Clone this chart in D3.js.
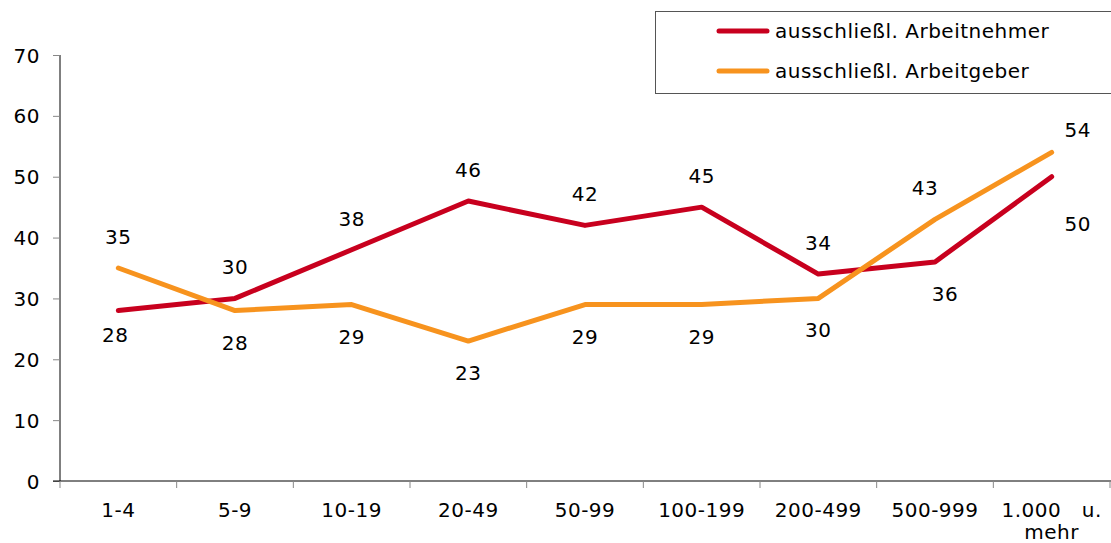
<!DOCTYPE html>
<html>
<head>
<meta charset="utf-8">
<script src="https://cdn.jsdelivr.net/npm/d3@7"></script>
<style>
  body { margin: 0; background: #fff; }
  text { font-family: "DejaVu Sans", Verdana, sans-serif; fill: #000; letter-spacing: 0.5px; }
</style>
</head>
<body>
<div id="chart"></div>
<script>
const categories = ['1-4', '5-9', '10-19', '20-49', '50-99', '100-199', '200-499', '500-999', '1.000 u. mehr'];
const arbeitnehmer = [28, 30, 38, 46, 42, 45, 34, 36, 50];
const arbeitgeber = [35, 28, 29, 23, 29, 29, 30, 43, 54];
const yTicks = [0, 10, 20, 30, 40, 50, 60, 70];
const seriesNames = ['ausschließl. Arbeitnehmer', 'ausschließl. Arbeitgeber'];

const width = 1111;
const height = 543;
const margin = { top: 55, right: 1, bottom: 62, left: 60 };
const fs = 20;

const svg = d3.select('#chart')
  .append('svg')
  .attr('width', width)
  .attr('height', height);

const x = d3.scaleBand()
  .domain(categories)
  .range([margin.left, width - margin.right]);

const y = d3.scaleLinear()
  .domain([0, 70])
  .range([height - margin.bottom, margin.top]);

// y axis
const yAxis = svg.append('g')
  .attr('transform', `translate(${margin.left},0)`)
  .call(d3.axisLeft(y).tickValues(yTicks).tickSize(7).tickPadding(13));
yAxis.select('.domain').attr('stroke', '#000').attr('d', `M0,${y(70)}V${y(0)}`);
yAxis.selectAll('.tick line').attr('stroke', '#888');
yAxis.selectAll('.tick text').attr('font-size', fs).attr('dy', '0.35em');

// x axis, ticks between categories
const xAxis = svg.append('g')
  .attr('transform', `translate(0,${y(0)})`);
xAxis.append('line')
  .attr('x1', margin.left - 7).attr('x2', width)
  .attr('stroke', '#000');
const bounds = categories.map(c => x(c)).concat([x.range()[1]]);
xAxis.selectAll('line.tk')
  .data(bounds)
  .join('line')
  .attr('class', 'tk')
  .attr('x1', d => d).attr('x2', d => d)
  .attr('y1', 0).attr('y2', 7)
  .attr('stroke', '#888');
xAxis.selectAll('text.cat')
  .data(categories)
  .join('text')
  .attr('class', 'cat')
  .attr('font-size', fs)
  .attr('text-anchor', 'middle')
  .attr('x', d => x(d) + x.bandwidth() / 2)
  .attr('y', 36)
  .each(function (d) {
    const t = d3.select(this);
    if (d === '1.000 u. mehr') {
      t.append('tspan').attr('x', x(d) + x.bandwidth() / 2).text('1.000\u00a0\u00a0\u00a0u.');
      t.append('tspan').attr('x', x(d) + x.bandwidth() / 2).attr('dy', 22).text('mehr');
    } else {
      t.text(d);
    }
  });

const cx = c => x(c) + x.bandwidth() / 2;
const line = d3.line()
  .x((d, i) => cx(categories[i]))
  .y(d => y(d));

const colors = ['#c8001e', '#f7931e'];
const series = [arbeitnehmer, arbeitgeber];

series.forEach((s, k) => {
  svg.append('path')
    .datum(s)
    .attr('fill', 'none')
    .attr('stroke', colors[k])
    .attr('stroke-width', 5)
    .attr('stroke-linejoin', 'round')
    .attr('stroke-linecap', 'round')
    .attr('d', line);
});

// value labels: above for the higher series, below for the lower one
series.forEach((s, k) => {
  const other = series[1 - k];
  svg.append('g').selectAll('text')
    .data(s)
    .join('text')
    .attr('font-size', fs)
    .attr('text-anchor', 'middle')
    .attr('x', (d, i) => {
      let px = cx(categories[i]);
      if (i === categories.length - 1) px += 26;
      else if (i === 7) px += d > other[i] ? -10 : 10;
      else if (i === 0 && d < other[i]) px -= 3;
      return px;
    })
    .attr('y', (d, i) => {
      const above = d > other[i];
      let off = above ? -31 : 32;
      if (i === 0 && !above) off = 24;
      if (i === categories.length - 1) off = above ? -22 : 47;
      return y(d) + off;
    })
    .attr('dy', '0.35em')
    .text(d => d);
});

// legend
const legend = svg.append('g');
legend.append('rect')
  .attr('x', 655.5).attr('y', 11.5)
  .attr('width', 470).attr('height', 82)
  .attr('fill', '#fff')
  .attr('stroke', '#555');
seriesNames.forEach((name, k) => {
  const ly = 31 + k * 40;
  legend.append('line')
    .attr('x1', 719).attr('x2', 767)
    .attr('y1', ly).attr('y2', ly)
    .attr('stroke', colors[k])
    .attr('stroke-width', 5)
    .attr('stroke-linecap', 'round');
  legend.append('text')
    .attr('x', 775).attr('y', ly)
    .attr('dy', '0.35em')
    .attr('font-size', fs)
    .attr('letter-spacing', '0.7px')
    .text(name);
});
</script>
</body>
</html>
